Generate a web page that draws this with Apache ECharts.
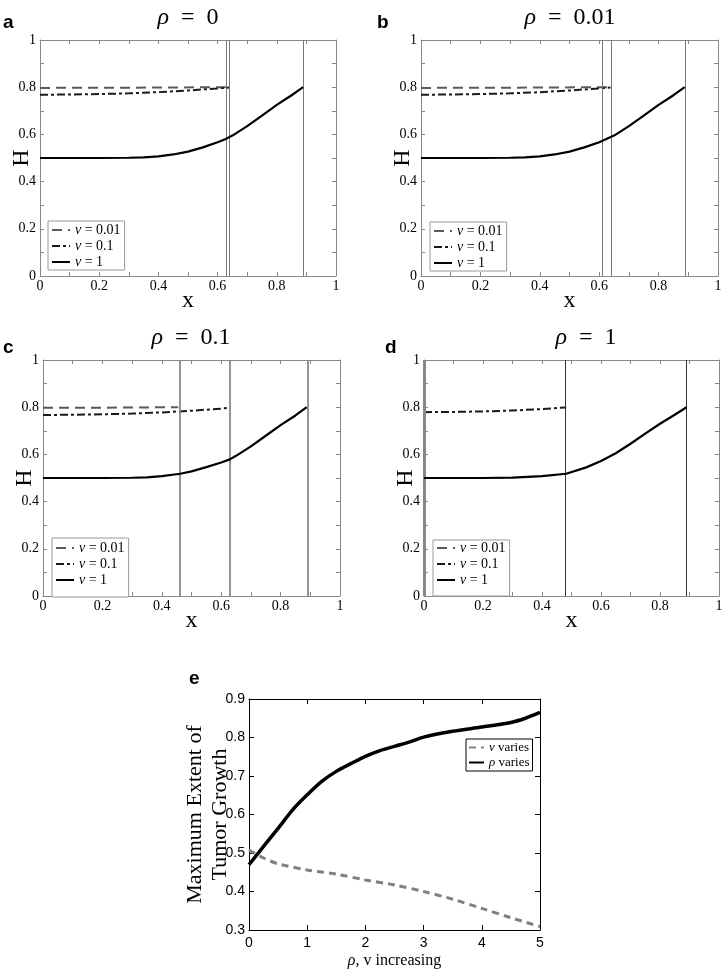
<!DOCTYPE html>
<html>
<head>
<meta charset="utf-8">
<script src="https://cdn.jsdelivr.net/npm/echarts@6/dist/echarts.min.js"></script>
<style>html,body{margin:0;padding:0;background:#fff;}#c{width:725px;height:971px;}</style>
</head>
<body>
<div id="c"></div>
<script>
// ---------- data ----------
const legendNames = ['ν = 0.01', 'ν = 0.1', 'ν = 1'];
const panelTitles = ['0', '0.01', '0.1', '1'];
const panelLetters = ['a', 'b', 'c', 'd', 'e'];

// Panel a (rho = 0)
const a_fronts = [0.626, 0.640, 0.889];
const a_nu001 = [[0, 0.797], [0.3, 0.798], [0.64, 0.800]];
const a_nu01 = [[0, 0.768], [0.1, 0.769], [0.2, 0.771], [0.3, 0.774], [0.4, 0.779], [0.5, 0.786], [0.6, 0.795], [0.64, 0.799]];
const a_nu1 = [[0, 0.5], [0.1, 0.5], [0.2, 0.5], [0.3, 0.501], [0.35, 0.503], [0.4, 0.507], [0.45, 0.515], [0.5, 0.527], [0.55, 0.545], [0.6, 0.567], [0.63, 0.582], [0.65, 0.595], [0.7, 0.635], [0.75, 0.68], [0.8, 0.725], [0.85, 0.766], [0.889, 0.8]];

// Panel b (rho = 0.01)
const b_fronts = [0.611, 0.638, 0.888];
const b_nu001 = [[0, 0.797], [0.3, 0.798], [0.638, 0.800]];
const b_nu01 = [[0, 0.768], [0.1, 0.769], [0.2, 0.771], [0.3, 0.774], [0.4, 0.779], [0.5, 0.786], [0.6, 0.795], [0.638, 0.799]];
const b_nu1 = [[0, 0.5], [0.1, 0.5], [0.2, 0.5], [0.3, 0.501], [0.35, 0.503], [0.4, 0.507], [0.45, 0.515], [0.5, 0.527], [0.55, 0.545], [0.6, 0.567], [0.611, 0.573], [0.65, 0.595], [0.7, 0.635], [0.75, 0.68], [0.8, 0.725], [0.85, 0.766], [0.888, 0.8]];

// Panel c (rho = 0.1)
const c_fronts = [0.462, 0.629, 0.888];
const c_nu001 = [[0, 0.798], [0.2, 0.798], [0.455, 0.800]];
const c_nu01 = [[0, 0.767], [0.1, 0.768], [0.2, 0.770], [0.3, 0.773], [0.4, 0.778], [0.5, 0.785], [0.6, 0.794], [0.629, 0.798]];
const c_nu1 = [[0, 0.5], [0.1, 0.5], [0.2, 0.5], [0.3, 0.501], [0.35, 0.503], [0.4, 0.508], [0.462, 0.518], [0.5, 0.528], [0.55, 0.546], [0.6, 0.566], [0.629, 0.579], [0.65, 0.594], [0.7, 0.634], [0.75, 0.679], [0.8, 0.724], [0.85, 0.765], [0.888, 0.8]];

// Panel d (rho = 1)
const d_fronts = [0.003, 0.482, 0.890];
const d_nu001 = [[0, 0.800], [0.004, 0.800]];
const d_nu01 = [[0, 0.779], [0.1, 0.780], [0.2, 0.782], [0.3, 0.786], [0.4, 0.792], [0.482, 0.799]];
const d_nu1 = [[0, 0.5], [0.1, 0.5], [0.2, 0.5], [0.3, 0.502], [0.4, 0.508], [0.482, 0.518], [0.55, 0.545], [0.6, 0.572], [0.65, 0.605], [0.7, 0.645], [0.75, 0.688], [0.8, 0.73], [0.85, 0.768], [0.89, 0.8]];

// Panel e
const e_rho = [[0, 0.470], [0.25, 0.517], [0.5, 0.564], [0.75, 0.612], [1, 0.651], [1.25, 0.686], [1.5, 0.712], [1.75, 0.732], [2, 0.751], [2.25, 0.766], [2.5, 0.777], [2.75, 0.788], [3, 0.801], [3.5, 0.816], [4, 0.827], [4.5, 0.839], [4.75, 0.850], [5, 0.865]];
const e_nu = [[0, 0.508], [0.25, 0.487], [0.5, 0.472], [1, 0.456], [1.5, 0.445], [2, 0.430], [2.5, 0.417], [3, 0.400], [3.5, 0.380], [4, 0.356], [4.5, 0.332], [5, 0.309]];
const e_names = ['ν varies', 'ρ varies'];

// ---------- layout / style ----------
const SERIF = '"Liberation Serif", "Times New Roman", serif';
const SANS = '"Liberation Sans", Arial, sans-serif';

const grids = [
  {left: 40, top: 40, width: 296, height: 236},
  {left: 421, top: 40, width: 297, height: 236},
  {left: 43, top: 360, width: 297, height: 236},
  {left: 424, top: 360, width: 295, height: 236},
  {left: 249, top: 699, width: 291, height: 231}
].map(g => Object.assign({outerBoundsMode: 'none', containLabel: false}, g));

const panels = [
  {nu001: a_nu001, nu01: a_nu01, nu1: a_nu1, fronts: a_fronts,
   frontStyle: [{color: '#777', width: 1}, {color: '#777', width: 1}, {color: '#777', width: 1}]},
  {nu001: b_nu001, nu01: b_nu01, nu1: b_nu1, fronts: b_fronts,
   frontStyle: [{color: '#777', width: 1}, {color: '#777', width: 1}, {color: '#777', width: 1}]},
  {nu001: c_nu001, nu01: c_nu01, nu1: c_nu1, fronts: c_fronts,
   frontStyle: [{color: '#888', width: 1.8}, {color: '#888', width: 1.8}, {color: '#888', width: 1.8}]},
  {nu001: d_nu001, nu01: d_nu01, nu1: d_nu1, fronts: d_fronts,
   frontStyle: [{color: '#888', width: 3}, {color: '#333', width: 1}, {color: '#333', width: 1}]}
];

const xAxes = [], yAxes = [], series = [];
for (let i = 0; i < 4; i++) {
  const axc = '#888';
  const base = {
    gridIndex: i, type: 'value', min: 0, max: 1, interval: 0.2,
    splitLine: {show: false}, minorSplitLine: {show: false},
    axisLine: {show: true, onZero: false, lineStyle: {color: axc, width: 1}},
    axisTick: {show: true, inside: true, length: 4, lineStyle: {color: axc}},
    minorTick: {show: true, splitNumber: 2, length: 4, lineStyle: {color: axc}},
    nameMoveOverlap: false
  };
  xAxes.push(Object.assign({}, base, {
    position: 'bottom',
    axisLabel: {color: '#000', fontFamily: SERIF, fontSize: 14, margin: 3},
    name: 'x', nameLocation: 'middle', nameGap: 13,
    nameTextStyle: {color: '#000', fontFamily: SERIF, fontSize: 24}
  }));
  xAxes.push(Object.assign({}, base, {position: 'top', axisLabel: {show: false}}));
  yAxes.push(Object.assign({}, base, {
    position: 'left',
    axisLabel: {color: '#000', fontFamily: SERIF, fontSize: 14, margin: 4},
    name: 'H', nameLocation: 'middle', nameGap: 6,
    nameTextStyle: {color: '#000', fontFamily: SERIF, fontSize: 24}
  }));
  yAxes.push(Object.assign({}, base, {position: 'right', axisLabel: {show: false}}));

  const p = panels[i];
  const common = {type: 'line', xAxisIndex: 2 * i, yAxisIndex: 2 * i, symbol: 'none', showSymbol: false, animation: false, silent: true};
  series.push(Object.assign({}, common, {
    name: legendNames[0], data: p.nu001, z: 3,
    lineStyle: {color: '#5a5a5a', width: 2, type: [10, 6]}, itemStyle: {color: '#5a5a5a'}
  }));
  series.push(Object.assign({}, common, {
    name: legendNames[1], data: p.nu01, z: 4,
    lineStyle: {color: '#1a1a1a', width: 2, type: [8, 3, 3, 3]}, itemStyle: {color: '#1a1a1a'}
  }));
  series.push(Object.assign({}, common, {
    name: legendNames[2], data: p.nu1, z: 5,
    lineStyle: {color: '#000', width: 2.2, type: 'solid'}, itemStyle: {color: '#000'},
    markLine: {
      silent: true, symbol: ['none', 'none'], label: {show: false}, animation: false,
      data: p.fronts.map((v, k) => ({xAxis: v, lineStyle: Object.assign({type: 'solid'}, p.frontStyle[k])}))
    }
  }));
}

// Panel e axes
const eBase = {
  gridIndex: 4, type: 'value', splitLine: {show: false}, nameMoveOverlap: false,
  axisLine: {show: true, onZero: false, lineStyle: {color: '#000', width: 1}},
  axisTick: {show: true, inside: true, length: 5, lineStyle: {color: '#000'}}
};
xAxes.push(Object.assign({}, eBase, {
  position: 'bottom', min: 0, max: 5, interval: 1,
  axisLabel: {color: '#000', fontFamily: SANS, fontSize: 14, margin: 6},
  name: '{i|ρ}, v increasing', nameLocation: 'middle', nameGap: 23,
  nameTextStyle: {color: '#000', fontFamily: SERIF, fontSize: 16,
    rich: {i: {fontStyle: 'italic', fontFamily: SERIF, fontSize: 16, color: '#000'}}}
}));
xAxes.push(Object.assign({}, eBase, {position: 'top', min: 0, max: 5, interval: 1, axisLabel: {show: false}}));
yAxes.push(Object.assign({}, eBase, {
  position: 'left', min: 0.3, max: 0.9, interval: 0.1,
  axisLabel: {color: '#000', fontFamily: SANS, fontSize: 14, margin: 4},
  name: 'Maximum Extent of\nTumor Growth', nameLocation: 'middle', nameGap: 16,
  nameTextStyle: {color: '#000', fontFamily: SERIF, fontSize: 22, lineHeight: 25}
}));
yAxes.push(Object.assign({}, eBase, {position: 'right', min: 0.3, max: 0.9, interval: 0.1, axisLabel: {show: false}}));

series.push({
  type: 'line', name: e_names[0], xAxisIndex: 8, yAxisIndex: 8, data: e_nu, smooth: 0.3,
  symbol: 'none', showSymbol: false, animation: false, silent: true, z: 3,
  lineStyle: {color: '#808080', width: 3, type: [7, 5]}, itemStyle: {color: '#808080'}
});
series.push({
  type: 'line', name: e_names[1], xAxisIndex: 8, yAxisIndex: 8, data: e_rho, smooth: 0.3,
  symbol: 'none', showSymbol: false, animation: false, silent: true, z: 4,
  lineStyle: {color: '#000', width: 3.5, type: 'solid'}, itemStyle: {color: '#000'}
});

function mkLegend(names, left, top, pad, gap, iw, fs) {
  return {
    data: names, orient: 'vertical', left: left, top: top, padding: pad, itemGap: gap,
    itemWidth: iw, itemHeight: 12, borderColor: '#999', borderWidth: 1, borderRadius: 0,
    backgroundColor: '#fff', selectedMode: false,
    itemStyle: {opacity: 0, borderWidth: 0},
    textStyle: {color: '#000', fontFamily: SERIF, fontSize: fs,
      rich: {i: {fontStyle: 'italic', fontFamily: SERIF, fontSize: fs, color: '#000'}}},
    formatter: n => '{i|' + n[0] + '}' + n.slice(1)
  };
}
const legends = [
  mkLegend(legendNames, 48, 221, [2, 4, 1, 3], 2, 18, 14),
  mkLegend(legendNames, 430, 222, [2, 4, 1, 3], 2, 18, 14),
  mkLegend(legendNames, 52, 538, [3, 4, 10, 3], 2, 18, 14),
  mkLegend(legendNames, 433, 540, [1, 4, 9, 3], 2, 18, 14),
  Object.assign(mkLegend(e_names, 466, 739, [2, 3, 2, 2], 2, 15, 13), {borderColor: '#000'})
];

const titlePos = [[188, 18], [570, 18], [191, 338], [586, 338]];
const letterPos = [[3, 22.5], [377, 22.5], [3, 347.5], [385, 347.5], [189, 678.5]];
const graphics = [];
panelTitles.forEach((t, k) => {
  graphics.push({
    type: 'text', x: titlePos[k][0], y: titlePos[k][1], silent: true,
    style: {
      text: '{i|ρ}\u2002=\u2002' + t,
      fill: '#000', fontFamily: SERIF, fontSize: 24, align: 'center', verticalAlign: 'middle',
      rich: {i: {fontStyle: 'italic', fontFamily: SERIF, fontSize: 24, fill: '#000'}}
    }
  });
});
panelLetters.forEach((t, k) => {
  graphics.push({
    type: 'text', x: letterPos[k][0], y: letterPos[k][1], silent: true,
    style: {text: t, fill: '#000', fontFamily: SANS, fontWeight: 'bold', fontSize: 19, align: 'left', verticalAlign: 'middle'}
  });
});

const chart = echarts.init(document.getElementById('c'), null, {renderer: 'canvas'});
chart.setOption({
  animation: false,
  backgroundColor: '#fff',
  grid: grids,
  xAxis: xAxes,
  yAxis: yAxes,
  legend: legends,
  series: series,
  graphic: graphics
});
</script>
</body>
</html>
